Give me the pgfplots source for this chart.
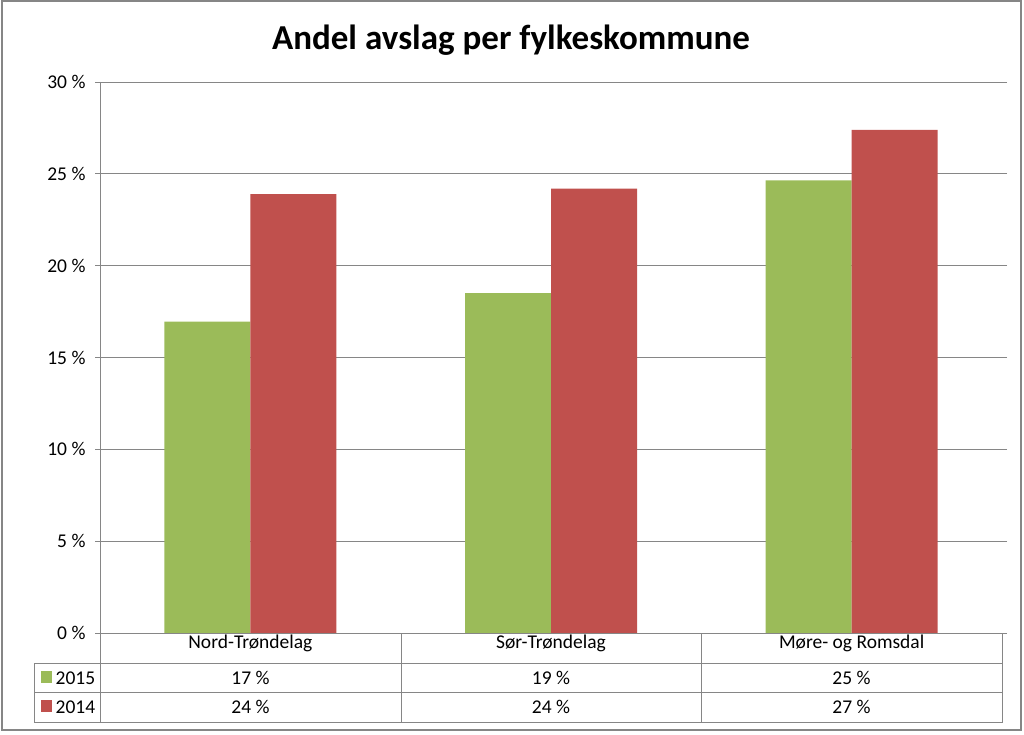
\documentclass[border=0pt]{standalone}
\usepackage{pgfplots}
\pgfplotsset{compat=1.18}
\usepackage{fontspec}
\setmainfont{Carlito}
\definecolor{g15}{HTML}{9BBB59}
\definecolor{r14}{HTML}{C0504D}
\definecolor{gridc}{HTML}{868686}
\begin{document}
\begin{tikzpicture}[x=1pt,y=1pt]
\path[use as bounding box] (0,0) rectangle (1024,734);
\begin{axis}[
 at={(100pt,101pt)}, anchor=south west,
 scale only axis, width=902pt, height=551pt,
 xmin=-0.5, xmax=2.5, ymin=0, ymax=30,
 ybar=0pt, bar width=86pt,
 axis line style={draw=none},
 ymajorgrids, grid style={gridc, line width=0.9pt},
 ytick={0,5,...,30},
 yticklabels={0 \%,5 \%,10 \%,15 \%,20 \%,25 \%,30 \%},
 xtick={0,1,2},
 xticklabels={Nord-Trøndelag,Sør-Trøndelag,Møre- og Romsdal},
 tick align=outside, major tick length=5pt,
 ytick style={gridc, line width=0.9pt},
 xtick style={draw=none},
 ticklabel style={font=\fontsize{19.5}{22}\selectfont, text=black},
 yticklabel style={xshift=-6pt},
 xticklabel style={anchor=base, yshift=-10pt},
]
\addplot[fill=g15, draw=none] coordinates {(0,16.95) (1,18.5) (2,24.65)};
\addplot[fill=r14, draw=none] coordinates {(0,23.9) (1,24.2) (2,27.4)};
\end{axis}
% data table lines
\begin{scope}[gridc, line width=0.9pt]
\draw (100,652) -- (100,11.5);
\draw (100,101) -- (1002,101);
\draw (34,71) -- (1002,71);
\draw (34,42) -- (1002,42);
\draw (34,11.5) -- (1002,11.5);
\draw (34,71) -- (34,11.5);
\draw (401,101) -- (401,11.5);
\draw (701,101) -- (701,11.5);
\draw (1002,101) -- (1002,11.5);
\end{scope}
% legend keys
\fill[g15] (40.5,51) rectangle (52,63);
\fill[r14] (40.5,22) rectangle (52,34);
\begin{scope}[font=\fontsize{19.5}{22}\selectfont]
\node[anchor=base west, inner sep=0] at (55.5,50) {2015};
\node[anchor=base west, inner sep=0] at (55.5,20.7) {2014};
\node[anchor=base, inner sep=0] at (250.5,50) {17 \%};
\node[anchor=base, inner sep=0] at (551,50) {19 \%};
\node[anchor=base, inner sep=0] at (851.5,50) {25 \%};
\node[anchor=base, inner sep=0] at (250.5,20.7) {24 \%};
\node[anchor=base, inner sep=0] at (551,20.7) {24 \%};
\node[anchor=base, inner sep=0] at (851.5,20.7) {27 \%};
\end{scope}
% title
\node[anchor=base, inner sep=0, font=\bfseries\fontsize{35}{42}\selectfont] at (511,684.7) {Andel avslag per fylkeskommune};
% outer frame
\draw[gridc, line width=2.5pt] (2,4) rectangle (1021,733);
\end{tikzpicture}
\end{document}
